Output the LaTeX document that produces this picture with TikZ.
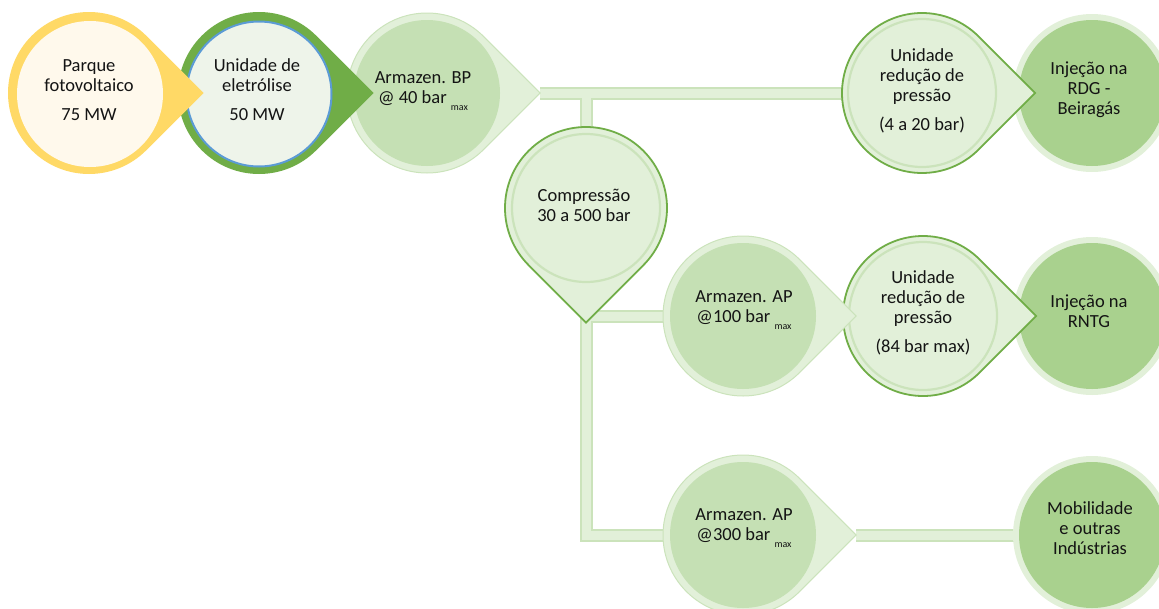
\documentclass[tikz,border=0pt]{standalone}
\usepackage{fontspec}
\setmainfont{Carlito}
\usetikzlibrary{calc}

\definecolor{sunring}{HTML}{FFD966}
\definecolor{cream}{HTML}{FFF9EC}
\definecolor{leaf}{HTML}{70AD47}
\definecolor{sky}{HTML}{5B9BD5}
\definecolor{mist}{HTML}{EEF4EA}
\definecolor{pale}{HTML}{E2F0D9}
\definecolor{paleline}{HTML}{CBE3BB}
\definecolor{sage}{HTML}{C5E0B4}
\definecolor{moss}{HTML}{A9D18E}
\definecolor{ink}{HTML}{141414}

% teardrop outline: centre, radius, direction of the point
\newcommand\droppath[3]{(#1) ++(#3+45:#2) arc[start angle=#3+45, end angle=#3+315, radius=#2] -- ($(#1)+(#3:{1.4142*#2})$) -- cycle}
\newcommand\maxsub{\raisebox{-7pt}[0pt][0pt]{\fontsize{10}{10}\selectfont max}}

\tikzset{
  pipeedge/.style={draw=paleline, line width=13pt, line join=miter},
  pipecore/.style={draw=pale, line width=9pt, line join=miter},
  lbl/.style={align=center, inner sep=0pt, text=ink, font=\fontsize{18.5}{20}\selectfont},
  sundrop/.style={fill=sunring},
  sunface/.style={circle, fill=cream, inner sep=0pt, minimum size=146pt},
  eledrop/.style={fill=leaf},
  eleface/.style={circle, fill=mist, draw=sky, line width=2pt, inner sep=0pt, minimum size=145pt},
  storedrop/.style={fill=pale, draw=paleline, line width=1pt},
  storeface/.style={circle, fill=sage, inner sep=0pt, minimum size=146pt},
  unitdrop/.style={fill=pale, draw=leaf, line width=1.8pt},
  unitface/.style={circle, draw=paleline, line width=2.2pt, inner sep=0pt, minimum size=148pt},
  endring/.style={circle, fill=pale, inner sep=0pt, minimum size=158pt},
  endface/.style={circle, fill=moss, inner sep=0pt, minimum size=146pt},
}

\begin{document}
\begin{tikzpicture}[x=1pt,y=1pt]
\useasboundingbox (0,0) rectangle (1159,-608);
\clip (0,0) rectangle (1159,-608);

% centres of the units
\coordinate (cPV) at (89,-93);
\coordinate (cEL) at (259,-93);
\coordinate (cBP) at (427,-93);
\coordinate (cCP) at (586,-208);
\coordinate (cA1) at (743,-316);
\coordinate (cA3) at (743,-535);
\coordinate (cR1) at (922,-93);
\coordinate (cR2) at (923,-316);
\coordinate (cI1) at (1092,-93);
\coordinate (cI2) at (1092,-316);
\coordinate (cMO) at (1092,-535);

% points of the teardrops that feed pipes
\coordinate (pBP) at ($(cBP)+(0:{1.4142*80})$);
\coordinate (pCP) at ($(cCP)+(-90:{1.4142*81})$);
\coordinate (pA3) at ($(cA3)+(0:{1.4142*80})$);

% pipes: edge pass, then core pass
\draw[pipeedge] (pBP) -- (cR1);
\draw[pipeedge] (cCP |- pBP) -- (cCP);
\draw[pipeedge] (pCP |- cA1) -- (cA1);
\draw[pipeedge] (pCP |- cA1) -- (pCP |- cA3) -- (cA3);
\draw[pipeedge] (pA3) -- (cMO);
\draw[pipecore] (pBP) -- (cR1);
\draw[pipecore] (cCP |- pBP) -- (cCP);
\draw[pipecore] (pCP |- cA1) -- (cA1);
\draw[pipecore] (pCP |- cA1) -- (pCP |- cA3) -- (cA3);
\draw[pipecore] (pA3) -- (cMO);

% end users
\node[endring] (ringI1) at (cI1) {};
\node[endface] (inj1) at (cI1) {};
\node[endring] (ringI2) at (cI2) {};
\node[endface] (inj2) at (cI2) {};
\node[endring] (ringMO) at (cMO) {};
\node[endface] (mob) at (cMO) {};
\node[lbl] (tI1) at (1089,-90) {Injeção na\\RDG -\\Beiragás};
\node[lbl] (tI2) at (1089,-311) {Injeção na\\RNTG};
\node[lbl] (tMO) at (1090,-528) {Mobilidade\\e outras\\Indústrias};

% pressure reduction units
\path[unitdrop] \droppath{cR1}{80}{0};
\node[unitface] (red1) at (cR1) {};
\node[lbl] (tR1) at (922,-91) {Unidade\\redução de\\pressão\\[9pt](4 a 20 bar)};
\path[unitdrop] \droppath{cR2}{80}{0};
\node[unitface] (red2) at (cR2) {};
\node[lbl] (tR2) at (923,-313) {Unidade\\redução de\\pressão\\[9pt](84 bar max)};

% high pressure storage
\path[storedrop] \droppath{cA1}{80}{0};
\node[storeface] (ap1) at (cA1) {};
\node[lbl] (tA1) at (744,-308) {Armazen. AP\\@100 bar \maxsub};
\path[storedrop] \droppath{cA3}{80}{0};
\node[storeface] (ap3) at (cA3) {};
\node[lbl] (tA3) at (744,-526) {Armazen. AP\\@300 bar \maxsub};

% compression
\path[unitdrop] \droppath{cCP}{81}{-90};
\node[unitface] (comp) at (cCP) {};
\node[lbl] (tCP) at (584,-205) {Compressão\\30 a 500 bar};

% low pressure storage
\path[storedrop] \droppath{cBP}{80}{0};
\node[storeface] (bp) at (cBP) {};
\node[lbl] (tBP) at (423,-89) {Armazen. BP\\@ 40 bar \maxsub};

% electrolysis
\path[eledrop] \droppath{cEL}{81}{0};
\node[eleface] (ele) at ([yshift=-1pt]cEL) {};
\node[lbl] (tEL) at (257,-90) {Unidade de\\eletrólise\\[9pt]50 MW};

% photovoltaic park
\path[sundrop] \droppath{cPV}{81}{0};
\node[sunface] (pv) at ([xshift=1pt,yshift=-1pt]cPV) {};
\node[lbl] (tPV) at (89,-90) {Parque\\fotovoltaico\\[9pt]75 MW};
\end{tikzpicture}
\end{document}
